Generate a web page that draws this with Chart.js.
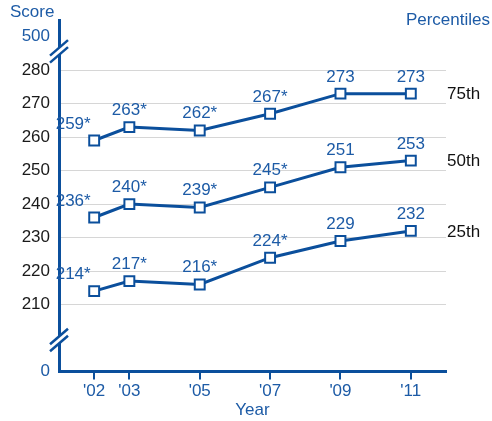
<!DOCTYPE html>
<html>
<head>
<meta charset="utf-8">
<script src="https://cdn.jsdelivr.net/npm/chart.js@4.4.1/dist/chart.umd.min.js"></script>
<style>
  html, body { margin: 0; padding: 0; background: #fff; }
  #wrap { width: 492px; height: 421px; position: relative; }
</style>
</head>
<body>
<div id="wrap"><canvas id="chart"></canvas></div>
<script>
// data
const years = [2002, 2003, 2005, 2007, 2009, 2011];
const yearLabels = ["'02", "'03", "'05", "'07", "'09", "'11"];
const p75 = [259, 263, 262, 267, 273, 273];
const p50 = [236, 240, 239, 245, 251, 253];
const p25 = [214, 217, 216, 224, 229, 232];
const significant = [true, true, true, true, false, false];
const seriesNames = ['75th', '50th', '25th'];
const yTicks = [210, 220, 230, 240, 250, 260, 270, 280];

// broken axis: 0 and 500 are drawn at these spots of the compressed scale
const zeroAt = 190, fiveHundredAt = 290;
const breaksAt = [199.5, 285.7];

const BLUE = '#0b4f9c';
const TEXT_BLUE = '#1d5ba6';
const FONT = '"Liberation Sans", Arial, sans-serif';

const toPoints = vals => vals.map((v, i) => ({ x: years[i], y: v }));

const decor = {
  id: 'decor',
  afterDraw(chart) {
    const { ctx, scales: { x, y } } = chart;
    ctx.save();

    // axis breaks
    breaksAt.forEach(v => {
      const cy = y.getPixelForValue(v);
      const cx = x.left;
      ctx.fillStyle = '#fff';
      ctx.beginPath();
      ctx.moveTo(cx - 9, cy + 4.5);
      ctx.lineTo(cx + 9, cy - 11);
      ctx.lineTo(cx + 9, cy - 4);
      ctx.lineTo(cx - 9, cy + 11.5);
      ctx.closePath();
      ctx.fill();
      ctx.strokeStyle = BLUE;
      ctx.lineWidth = 2.5;
      [-3.5, 3.5].forEach(off => {
        ctx.beginPath();
        ctx.moveTo(cx - 9, cy + 8 + off);
        ctx.lineTo(cx + 9, cy - 7.5 + off);
        ctx.stroke();
      });
    });

    // value labels
    ctx.font = '17px ' + FONT;
    ctx.textAlign = 'center';
    ctx.textBaseline = 'alphabetic';
    ctx.fillStyle = TEXT_BLUE;
    chart.data.datasets.forEach((ds, di) => {
      const meta = chart.getDatasetMeta(di);
      meta.data.forEach((pt, i) => {
        const txt = ds.data[i].y + (significant[i] ? '*' : '');
        const dx = i === 0 ? -21 : 0;
        ctx.fillText(txt, pt.x + dx, pt.y - 12);
      });
    });

    // series names on the right
    ctx.textAlign = 'left';
    ctx.textBaseline = 'middle';
    ctx.fillStyle = '#111';
    chart.data.datasets.forEach((ds, di) => {
      const meta = chart.getDatasetMeta(di);
      const last = meta.data[meta.data.length - 1];
      ctx.fillText(seriesNames[di], 447, last.y + 1);
    });

    // titles
    ctx.fillStyle = TEXT_BLUE;
    ctx.textAlign = 'left';
    ctx.fillText('Score', 10, 12);
    ctx.textAlign = 'right';
    ctx.fillText('Percentiles', 490, 20);
    ctx.restore();
  }
};

const lineStyle = {
  borderColor: BLUE,
  borderWidth: 3,
  pointStyle: 'rect',
  pointRadius: 7,
  pointBorderWidth: 2,
  pointBackgroundColor: '#fff',
  pointBorderColor: BLUE,
  tension: 0
};

new Chart(document.getElementById('chart'), {
  type: 'line',
  data: {
    datasets: [
      { label: seriesNames[0], data: toPoints(p75), ...lineStyle },
      { label: seriesNames[1], data: toPoints(p50), ...lineStyle },
      { label: seriesNames[2], data: toPoints(p25), ...lineStyle }
    ]
  },
  options: {
    responsive: true,
    maintainAspectRatio: false,
    animation: false,
    layout: { padding: { top: 20, right: 46, left: 0, bottom: 0 } },
    plugins: { legend: { display: false }, tooltip: { enabled: false } },
    scales: {
      x: {
        type: 'linear',
        min: 2001,
        max: 2012,
        afterBuildTicks: s => { s.ticks = years.map(v => ({ value: v })); },
        afterFit: s => { s.height = 49.5; },
        ticks: {
          color: TEXT_BLUE,
          font: { family: FONT, size: 17 },
          padding: 2,
          maxRotation: 0,
          autoSkip: false,
          callback: v => yearLabels[years.indexOf(v)]
        },
        grid: { drawOnChartArea: false, drawTicks: true, tickLength: 8, color: BLUE, lineWidth: 2 },
        border: { color: BLUE, width: 3 },
        title: { display: true, text: 'Year', color: TEXT_BLUE, font: { family: FONT, size: 17 }, padding: { top: 0, bottom: 0 } }
      },
      y: {
        min: zeroAt,
        max: 295,
        afterBuildTicks: s => { s.ticks = [zeroAt, ...yTicks, fiveHundredAt].map(v => ({ value: v })); },
        afterFit: s => { s.width = 59; },
        ticks: {
          font: { family: FONT, size: 17 },
          padding: 9,
          color: c => (c.tick && (c.tick.value === zeroAt || c.tick.value === fiveHundredAt)) ? TEXT_BLUE : '#1a1a1a',
          callback: v => v === zeroAt ? '0' : v === fiveHundredAt ? '500' : String(v)
        },
        grid: {
          drawTicks: false,
          color: c => (c.tick && yTicks.includes(c.tick.value)) ? '#d6d6d6' : 'rgba(0,0,0,0)',
          lineWidth: 1
        },
        border: { color: BLUE, width: 3 }
      }
    }
  },
  plugins: [decor]
});
</script>
</body>
</html>
